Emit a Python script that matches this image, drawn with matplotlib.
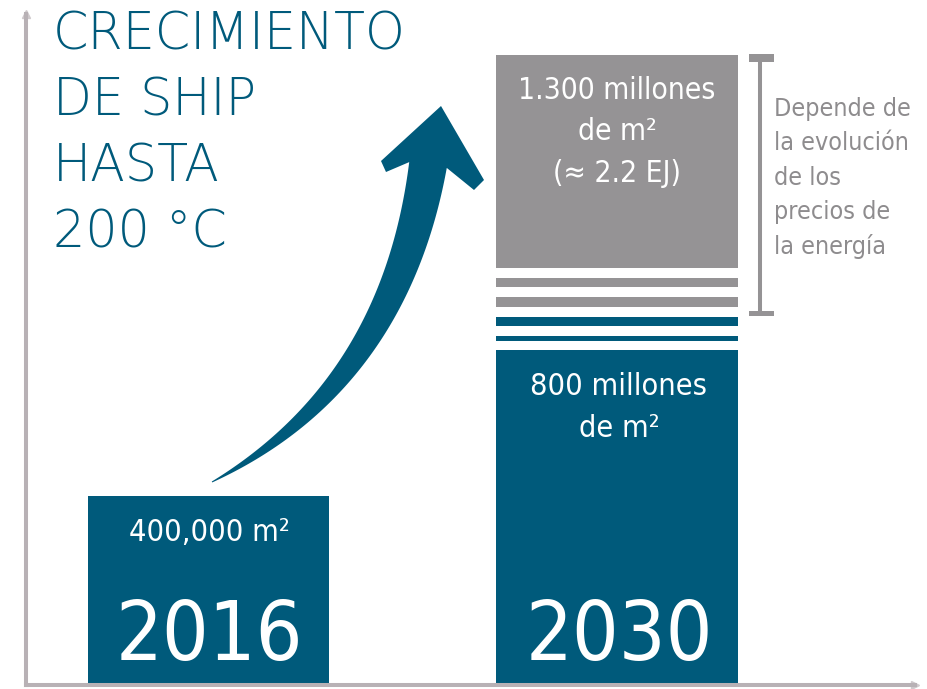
import numpy as np
import matplotlib.pyplot as plt
from matplotlib import font_manager
from matplotlib.font_manager import FontProperties
from matplotlib.patches import Polygon, Rectangle

# superficie de colectores (millones de m²)
years = ["2016", "2030"]
area = [0.4, 800]
area_labels = ["400,000 m²", "800 millones\nde m²"]
potential = 1300
potential_label = "1.300 millones\nde m²\n(≈ 2.2 EJ)"
note = "Depende de\nla evolución\nde los\nprecios de\nla energía"
title = "CRECIMIENTO\nDE SHIP\nHASTA\n200 °C"

BLUE = "#005a7b"
GREY = "#959395"
AXIS = "#b8b1b5"
NOTE = "#8e8c8e"

W, H = 928, 689
base = 684.5


def is_condensed(f):
    nm = f.name.lower()
    st = f.stretch
    if isinstance(st, str):
        narrow_st = st in ("condensed", "semi-condensed", "extra-condensed", "ultra-condensed")
    else:
        narrow_st = st < 500
    return f.style == "normal" and ("narrow" in nm or "condensed" in nm or narrow_st)


def weight_num(f):
    w = f.weight
    if isinstance(w, str):
        w = font_manager.weight_dict.get(w, 400)
    return w


cands = [f for f in font_manager.fontManager.ttflist if is_condensed(f)]
cands.sort(key=lambda f: (abs(weight_num(f) - 400), "liberation" not in f.name.lower()))
cond_file = cands[0].fname if cands else None


def fp(size):
    # fuente estrecha si existe; si no, sans normal algo más pequeña
    if cond_file:
        return FontProperties(fname=cond_file, size=size)
    return FontProperties(family="Liberation Sans", size=size * 0.9)


# escala por tramos: 0 - 0.4 - 800 - 1300 (eje cortado)
lvl_vals = np.array([0, 0.4, 800, 1300])
lvl_px = np.array([0, 189, 335, 630])
lo_slope = lvl_px[1] / lvl_vals[1]
hi_slope = (lvl_px[-1] - lvl_px[-2]) / (lvl_vals[-1] - lvl_vals[-2])


def fwd(v):
    v = np.asarray(v, dtype=float)
    out = np.interp(v, lvl_vals, lvl_px)
    out = np.where(v > lvl_vals[-1], lvl_px[-1] + (v - lvl_vals[-1]) * hi_slope, out)
    return np.where(v < 0, v * lo_slope, out)


def inv(p):
    p = np.asarray(p, dtype=float)
    out = np.interp(p, lvl_px, lvl_vals)
    out = np.where(p > lvl_px[-1], lvl_vals[-1] + (p - lvl_px[-1]) / hi_slope, out)
    return np.where(p < 0, p / lo_slope, out)


fig = plt.figure(figsize=(W / 100, H / 100), dpi=100)
ax = fig.add_axes([26 / W, (H - base) / H, (915 - 26) / W, (base - 14) / H])
ax.set_yscale("function", functions=(fwd, inv))
ax.set_ylim(0, float(inv(base - 14)))
ax.set_xlim(-0.4468, 1.7295)
ax.patch.set_alpha(0)

x = np.arange(len(years))
bw = 0.592
ax.bar(x, area, width=bw, color=BLUE, zorder=2)

# franja de transición y bloque gris hasta el potencial
gray_lo = float(inv(417))
ax.bar(x[1], potential - gray_lo, bottom=gray_lo, width=bw, color=GREY, zorder=2)
for lo, hi, c in [(398, 407, GREY), (378, 388, GREY), (359, 368, BLUE), (344, 349, BLUE)]:
    b = float(inv(lo))
    ax.bar(x[1], float(inv(hi)) - b, bottom=b, width=bw, color=c, zorder=2)

for s in ("top", "right"):
    ax.spines[s].set_visible(False)
for s in ("left", "bottom"):
    ax.spines[s].set(color=AXIS, linewidth=2.9)
ax.set_xticks([])
ax.set_yticks([])
ax.yaxis.set_minor_locator(plt.NullLocator())
ax.plot([0], [1], marker="^", ms=6, color="#cfc9cc", transform=ax.transAxes, clip_on=False)
ax.plot([1], [0], marker=">", ms=6, color="#cfc9cc", transform=ax.transAxes, clip_on=False)

# capa de anotaciones en píxeles
deco = fig.add_axes([0, 0, 1, 1], zorder=3)
deco.set_xlim(0, W)
deco.set_ylim(H, 0)
deco.axis("off")

for i, line in enumerate(title.split("\n")):
    deco.text(53, 49 + 66.3 * i, line, fontsize=36.5, color=BLUE, family="DejaVu Sans",
              fontweight="light", va="baseline", ha="left")

# flecha curva
p0 = np.array([212.0, 482.0])
pc = np.array([394.0, 385.0])
p2 = np.array([428.0, 165.0])
t = np.linspace(0, 1, 100)[:, None]
curve = (1 - t) ** 2 * p0 + 2 * t * (1 - t) * pc + t ** 2 * p2
tang = 2 * (1 - t) * (pc - p0) + 2 * t * (p2 - pc)
tang /= np.linalg.norm(tang, axis=1, keepdims=True)
nrm = np.column_stack([-tang[:, 1], tang[:, 0]])
tt = t[:, 0]
half = (1 + 50 * tt - 13 * tt ** 2) / 2
right = curve + nrm * half[:, None]
left = curve - nrm * half[:, None]
head = np.array([[386, 172], [381, 161], [441, 106], [484, 180], [474, 190]])
deco.add_patch(Polygon(np.vstack([left, head, right[::-1]]), closed=True, color=BLUE, lw=0))

# etiquetas de las barras
centers = [209, 619]
for cx, yr in zip(centers, years):
    deco.text(cx, 660, yr, fontproperties=fp(59), color="white", ha="center", va="baseline")
for cx, lab, b0 in zip(centers, area_labels, [541, 395]):
    for j, line in enumerate(lab.split("\n")):
        deco.text(cx, b0 + 42 * j, line, fontproperties=fp(22), color="white",
                  ha="center", va="baseline")
for j, line in enumerate(potential_label.split("\n")):
    deco.text(617, 99 + 41.5 * j, line, fontproperties=fp(21.5), color="white",
              ha="center", va="baseline")

# corchete y nota
deco.plot([760, 760], [60, 313], color=GREY, lw=2.9, solid_capstyle="butt")
deco.add_patch(Rectangle((749, 54), 25, 8, color=GREY, lw=0))
deco.add_patch(Rectangle((749, 311), 25, 5, color=GREY, lw=0))
for j, line in enumerate(note.split("\n")):
    deco.text(774, 116 + 34.5 * j, line, fontproperties=fp(18), color=NOTE,
              ha="left", va="baseline")

fig.savefig("out.png", dpi=100)
